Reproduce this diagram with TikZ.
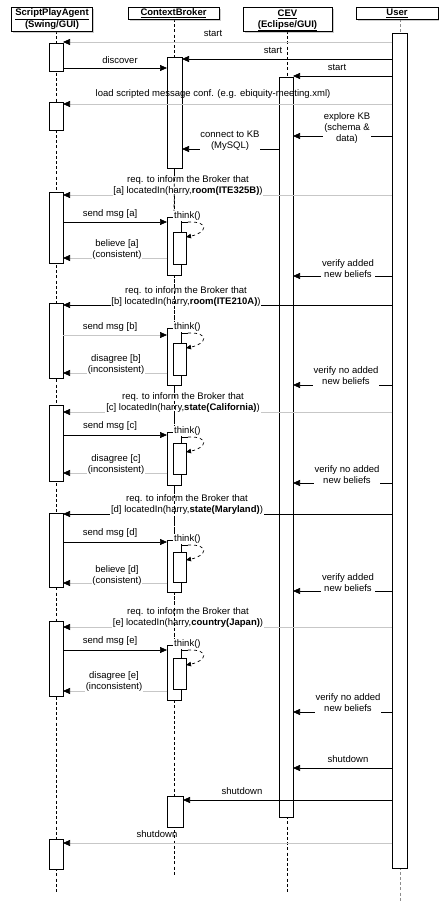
\documentclass[tikz,border=0pt]{standalone}
\usepackage{fontspec}
\setmainfont{Liberation Sans}
\usetikzlibrary{arrows.meta,shadows}
\newcommand\mkact[5]{%
  \pgfmathsetmacro\acth{#4-#3}\pgfmathsetmacro\actc{(#3+#4)/2}%
  \node[actbox, minimum width=#5pt, minimum height=\acth pt] (#1) at (#2,\actc) {};}
\begin{document}
\begin{tikzpicture}[x=1pt,y=-1pt,
  every node/.style={font=\fontsize{9.5}{11}\selectfont, inner sep=0.8pt},
  hdr/.style={draw, line width=0.9pt, fill=white, inner sep=0pt, align=center,
    font=\fontsize{9.5}{10}\selectfont,
    drop shadow={shadow xshift=1.6pt, shadow yshift=-1.6pt, opacity=0.4}},
  hdrtext/.style={inner sep=0pt, align=center, font=\fontsize{9.5}{10.5}\selectfont\bfseries},
  actbox/.style={draw, line width=0.9pt, fill=white, inner sep=0pt, outer sep=0pt,
    drop shadow={shadow xshift=1.3pt, shadow yshift=-1.3pt, opacity=0.35}},
  life/.style={dash pattern=on 3pt off 2.2pt, line width=0.8pt},
  msg/.style={line width=0.7pt, -{Triangle[length=7pt,width=6pt]}},
  faint/.style={line width=0.7pt, draw=black!22, -{Triangle[length=7pt,width=6pt,color=black]}},
  lbl/.style={fill=white, align=center},
  plain/.style={align=center},
  selfmsg/.style={dashed, line width=0.7pt, -{Triangle[length=5pt,width=4.5pt]}},
]
\useasboundingbox (0,0) rectangle (439,903);

% ---------- lifelines ----------
\coordinate (lsT) at (56,31);  \coordinate (lsB) at (56,893);
\coordinate (lcT) at (174,19); \coordinate (lcB) at (174,876);
\coordinate (leT) at (287,31); \coordinate (leB) at (287,893);
\coordinate (luT) at (400,19); \coordinate (luB) at (400,903);
\draw[life] (lsT) -- (lsB);
\draw[life] (lcT) -- (lcB);
\draw[life] (leT) -- (leB);
\draw[life, draw=black!45] (luT) -- (luB);

% ---------- activations ----------
\mkact{s1}{56}{43}{71}{14}
\mkact{s2}{56}{102}{130}{14}
\mkact{s3}{56}{192}{263}{14}
\mkact{s4}{56}{303}{378}{14}
\mkact{s5}{56}{405}{481}{14}
\mkact{s6}{56}{513}{587}{14}
\mkact{s7}{56}{621}{696}{14}
\mkact{s8}{56}{839}{869}{14}
\mkact{c0}{174.5}{57}{168}{15}
\mkact{ta}{174}{217}{275}{14}
\mkact{tb}{174}{328}{385}{14}
\mkact{tc}{174}{432}{485}{14}
\mkact{td}{174}{540}{592}{14}
\mkact{te}{174}{645}{700}{14}
\mkact{ia}{179.5}{232}{264}{13}
\mkact{ib}{179.5}{343}{375}{13}
\mkact{ic}{179.5}{443}{474}{13}
\mkact{id}{179.5}{552}{582}{13}
\mkact{ie}{179.5}{658}{689}{13}
\mkact{c9}{175}{796}{827}{16}
\mkact{e1}{286}{77}{817}{14}
\mkact{u1}{399.5}{33}{868}{15}

% ---------- headers ----------
\node[hdr, minimum width=81pt, minimum height=24pt] (hs) at (52,19) {};
\node[hdrtext] (hst) at (52,20.5) {\underline{ScriptPlayAgent}\\\underline{(Swing/GUI)}};
\node[hdr, minimum width=91pt, minimum height=12pt] (hc) at (173.5,13)
  {\textbf{\underline{ContextBroker}}};
\node[hdr, minimum width=89pt, minimum height=24pt] (he) at (287.5,19) {};
\node[hdrtext] (het) at (287.5,20.5) {\underline{CEV}\\\underline{(Eclipse/GUI)}};
\node[hdr, minimum width=82pt, minimum height=12pt] (hu) at (397,13)
  {\textbf{\underline{User}}};

% ---------- messages ----------
\draw[faint] (u1.west |- 0,42) -- (s1.east |- 0,42);
\draw[msg] (u1.west |- 0,59) -- (c0.east |- 0,59);
\draw[msg] (s1.east |- 0,68) -- (c0.west |- 0,68);
\draw[msg] (u1.west |- 0,76) -- (e1.east |- 0,76);
\draw[faint] (u1.west |- 0,104) -- (s2.east |- 0,104);
\draw[msg] (u1.west |- 0,136) -- (e1.east |- 0,136);
\draw[msg] (e1.west |- 0,149) -- (c0.east |- 0,149);
% a
\draw[faint] (u1.west |- 0,195) -- (s3.east |- 0,195);
\draw[msg] (s3.east |- 0,222) -- (ta.west |- 0,222);
\draw[faint] (ta.west |- 0,258) -- (s3.east |- 0,258);
\draw[msg] (u1.west |- 0,276) -- (e1.east |- 0,276);
% b
\draw[msg] (u1.west |- 0,305) -- (s4.east |- 0,305);
\draw[faint] (s4.east |- 0,335) -- (tb.west |- 0,335);
\draw[faint] (tb.west |- 0,373) -- (s4.east |- 0,373);
\draw[msg] (u1.west |- 0,385) -- (e1.east |- 0,385);
% c
\draw[faint] (u1.west |- 0,412) -- (s5.east |- 0,412);
\draw[msg] (s5.east |- 0,435) -- (tc.west |- 0,435);
\draw[faint] (tc.west |- 0,473) -- (s5.east |- 0,473);
\draw[msg] (u1.west |- 0,483) -- (e1.east |- 0,483);
% d
\draw[msg] (u1.west |- 0,514) -- (s6.east |- 0,514);
\draw[msg] (s6.east |- 0,542) -- (td.west |- 0,542);
\draw[faint] (td.west |- 0,583) -- (s6.east |- 0,583);
\draw[msg] (u1.west |- 0,591) -- (e1.east |- 0,591);
% e
\draw[faint] (u1.west |- 0,627) -- (s7.east |- 0,627);
\draw[msg] (s7.east |- 0,650) -- (te.west |- 0,650);
\draw[faint] (te.west |- 0,691) -- (s7.east |- 0,691);
\draw[msg] (u1.west |- 0,712) -- (e1.east |- 0,712);
% shutdown
\draw[msg] (u1.west |- 0,768) -- (e1.east |- 0,768);
\draw[msg] (u1.west |- 0,800) -- (c9.east |- 0,800);
\draw[faint] (u1.west |- 0,843) -- (s8.east |- 0,843);

% ---------- labels on lines ----------
\node[lbl] (lexp) at (347,128) {explore KB\\(schema \&\\data)};
\node[lbl] (lcon) at (230,140.5) {connect to KB\\(MySQL)};
\node[lbl] (lra) at (188,185.5) {req. to inform the Broker that\\{[a]} locatedIn(harry,\textbf{room(ITE325B)})};
\node[lbl] (lba) at (117,249.5) {believe [a]\\(consistent)};
\node[lbl] (lva) at (348,268.5) {verify added\\new beliefs};
\node[lbl] (lrb) at (186,297) {req. to inform the Broker that\\{[b]} locatedIn(harry,\textbf{room(ITE210A)})};
\node[lbl] (ldb) at (116,364.5) {disagree [b]\\(inconsistent)};
\node[lbl] (lvb) at (346,376) {verify no added\\new beliefs};
\node[lbl] (lrc) at (183,402.5) {req. to inform the Broker that\\{[c]} locatedIn(harry,\textbf{state(California)})};
\node[lbl] (ldc) at (116,465) {disagree [c]\\(inconsistent)};
\node[lbl] (lvc) at (347,475) {verify no added\\new beliefs};
\node[lbl] (lrd) at (187,505) {req. to inform the Broker that\\{[d]} locatedIn(harry,\textbf{state(Maryland)})};
\node[lbl] (lbd) at (117,575.5) {believe [d]\\(consistent)};
\node[lbl] (lvd) at (348,582.5) {verify added\\new beliefs};
\node[lbl] (lre) at (188,617.5) {req. to inform the Broker that\\{[e]} locatedIn(harry,\textbf{country(Japan)})};
\node[lbl] (lde) at (114,682) {disagree [e]\\(inconsistent)};
\node[lbl] (lve) at (348,703) {verify no added\\new beliefs};

% CB lifeline visible through request labels
\draw[life] (c0.south) -- (ta.north);
\draw[life] (ta.south) -- (tb.north);
\draw[life] (tb.south) -- (tc.north);
\draw[life] (tc.south) -- (td.north);
\draw[life] (td.south) -- (te.north);

% ---------- think() self calls ----------
\foreach \o/\i/\y in {ta/ia/217, tb/ib/328, tc/ic/432, td/id/540, te/ie/645}{
  \node[fill=white, inner sep=1pt, anchor=west] (th\o) at (173,\y-1) {think()};
  \draw[line width=0.7pt] (\o.east |- 0,\y+5) -- ++(7,0) coordinate (sc\o);
  \draw[selfmsg] (sc\o) .. controls (210,\y+4) and (207,\y+16) .. (\i.east |- 0,\y+20);
}

% ---------- labels above lines ----------
\node[plain] (l1) at (213,33) {start};
\node[plain] (l2) at (273,50) {start};
\node[plain] (l3) at (120,60) {discover};
\node[plain] (l4) at (337,67) {start};
\node[plain] (l5) at (213,94.5) {load scripted message conf. (e.g. ebiquity-meeting.xml)};
\node[plain] (lsa) at (110,214) {send msg [a]};
\node[plain] (lsb) at (110,327) {send msg [b]};
\node[plain] (lsc) at (110,426) {send msg [c]};
\node[plain] (lsd) at (110,533) {send msg [d]};
\node[plain] (lse) at (110,641) {send msg [e]};
\node[plain] (lx1) at (348,759) {shutdown};
\node[plain] (lx2) at (242,791) {shutdown};
\node[plain] (lx3) at (157,834) {shutdown};
\end{tikzpicture}
\end{document}
